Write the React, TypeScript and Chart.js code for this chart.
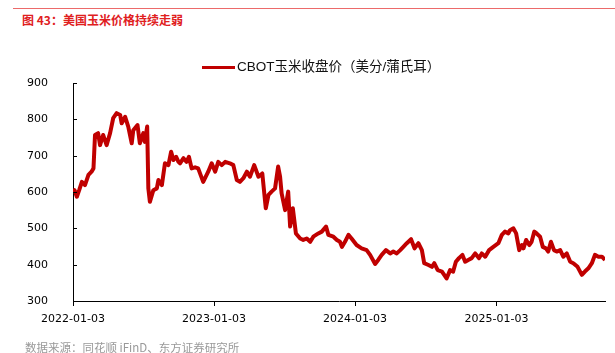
import React, { useEffect, useRef } from "react";
import { Chart, registerables } from "chart.js";

Chart.register(...registerables);

const titleText = "图 43：美国玉米价格持续走弱";
const seriesName = "CBOT玉米收盘价（美分/蒲氏耳）";
const sourceText = "数据来源：同花顺 iFinD、东方证券研究所";

const dates = [
  "2022-01-03", "2022-01-07", "2022-01-13", "2022-01-19", "2022-01-26", "2022-02-03", "2022-02-12", "2022-02-20", "2022-02-25", "2022-03-01",
  "2022-03-09", "2022-03-14", "2022-03-22", "2022-03-31", "2022-04-09", "2022-04-17", "2022-04-26", "2022-05-05", "2022-05-09", "2022-05-18",
  "2022-05-26", "2022-06-04", "2022-06-08", "2022-06-19", "2022-06-25", "2022-07-04", "2022-07-08", "2022-07-14", "2022-07-17", "2022-07-21",
  "2022-07-30", "2022-08-08", "2022-08-12", "2022-08-21", "2022-08-29", "2022-09-07", "2022-09-14", "2022-09-20", "2022-09-27", "2022-10-03",
  "2022-10-07", "2022-10-16", "2022-10-24", "2022-10-30", "2022-11-06", "2022-11-15", "2022-11-23", "2022-12-06", "2022-12-19", "2022-12-28",
  "2023-01-06", "2023-01-14", "2023-01-23", "2023-02-01", "2023-02-13", "2023-02-22", "2023-03-03", "2023-03-11", "2023-03-20", "2023-03-29",
  "2023-04-06", "2023-04-17", "2023-04-28", "2023-05-08", "2023-05-17", "2023-05-24", "2023-06-01", "2023-06-10", "2023-06-18", "2023-06-23",
  "2023-06-27", "2023-07-06", "2023-07-14", "2023-07-19", "2023-07-26", "2023-08-03", "2023-08-14", "2023-08-22", "2023-08-31", "2023-09-09",
  "2023-09-17", "2023-09-30", "2023-10-09", "2023-10-20", "2023-10-26", "2023-11-08", "2023-11-17", "2023-11-25", "2023-11-30", "2023-12-08",
  "2023-12-17", "2023-12-25",
  "2024-01-07", "2024-01-20", "2024-02-02", "2024-02-11", "2024-02-24", "2024-03-03", "2024-03-12", "2024-03-23", "2024-04-03", "2024-04-11",
  "2024-04-20", "2024-04-29", "2024-05-07", "2024-05-16", "2024-05-27", "2024-06-05", "2024-06-15", "2024-06-24", "2024-06-30", "2024-07-11",
  "2024-07-20", "2024-07-26", "2024-08-04", "2024-08-15", "2024-08-27", "2024-09-05", "2024-09-13", "2024-09-20", "2024-09-28", "2024-10-07",
  "2024-10-14", "2024-10-22", "2024-10-31", "2024-11-09", "2024-11-19", "2024-11-26", "2024-12-05", "2024-12-15", "2024-12-26",
  "2025-01-08", "2025-01-17", "2025-01-25", "2025-02-03", "2025-02-07", "2025-02-16", "2025-02-23", "2025-03-03", "2025-03-10", "2025-03-14",
  "2025-03-21", "2025-03-29", "2025-04-04", "2025-04-11", "2025-04-17", "2025-04-26", "2025-05-03", "2025-05-11", "2025-05-17", "2025-05-24",
  "2025-06-01", "2025-06-08", "2025-06-17", "2025-06-25", "2025-07-04", "2025-07-13", "2025-07-21", "2025-08-01", "2025-08-12", "2025-08-20",
  "2025-08-29", "2025-09-07", "2025-09-15", "2025-09-24", "2025-10-03", "2025-10-11",
];

const prices = [
  600, 605, 587, 605, 628, 619, 647, 656, 665, 757,
  762, 729, 757, 729, 762, 803, 817, 812, 789, 807,
  780, 734, 770, 784, 734, 762, 738, 780, 610, 573,
  605, 610, 633, 619, 679, 674, 711, 688, 697, 683,
  679, 693, 683, 697, 665, 668, 665, 628, 656, 679,
  656, 683, 674, 683, 679, 674, 633, 628, 638, 656,
  642, 674, 642, 651, 555, 592, 601, 610, 670, 642,
  596, 550, 601, 505, 555, 486, 472, 468, 472, 463,
  477, 486, 491, 505, 482, 477, 468, 463, 449, 463,
  482, 472, 454, 445, 440, 427, 402, 413, 427, 440,
  431, 436, 431, 440, 449, 459, 470, 445, 459, 440,
  404, 399, 394, 404, 385, 381, 362, 385, 381, 408,
  418, 427, 408, 413, 418, 431, 418, 431, 422, 440,
  449, 459, 482, 491, 486, 495, 500, 486, 440, 454,
  445, 468, 454, 463, 491, 486, 477, 449, 445, 436,
  463, 440, 436, 440, 422, 431, 408, 404, 394, 372,
  381, 390, 404, 427, 422, 422, 413,
];

const yTickValues = [300, 400, 500, 600, 700, 800, 900];
const xTickLabels = ["2022-01-03", "2023-01-03", "2024-01-03", "2025-01-03"];

const DAY_MS = 86400000;
const toUTC = (s: string) => {
  const [y, m, d] = s.split("-").map(Number);
  return Date.UTC(y, m - 1, d);
};
const originMs = toUTC(dates[0]);
const dayOf = (s: string) => Math.round((toUTC(s) - originMs) / DAY_MS);

const inwardTicks = {
  id: "inwardTicks",
  afterDraw(chart: any) {
    const { ctx, chartArea, scales } = chart;
    const y = scales.y;
    ctx.save();
    ctx.strokeStyle = "#000";
    ctx.lineWidth = 1;
    yTickValues.forEach((v) => {
      const py = Math.round(y.getPixelForValue(v)) + 0.5;
      ctx.beginPath();
      ctx.moveTo(chartArea.left, py);
      ctx.lineTo(chartArea.left + 4, py);
      ctx.stroke();
    });
    ctx.restore();
  },
};

export default function App() {
  const canvasRef = useRef<HTMLCanvasElement | null>(null);

  useEffect(() => {
    if (!canvasRef.current) return;
    const points = dates.map((d, i) => ({ x: dayOf(d), y: prices[i] }));
    const tickFont = { family: "'DejaVu Sans', sans-serif", size: 11 };
    const chart = new Chart(canvasRef.current, {
      type: "line",
      data: {
        datasets: [
          {
            label: seriesName,
            data: points,
            borderColor: "#c00000",
            backgroundColor: "#c00000",
            borderWidth: 4,
            borderJoinStyle: "round",
            pointRadius: 0,
            tension: 0,
            fill: false,
          },
        ],
      },
      options: {
        animation: false,
        responsive: false,
        devicePixelRatio: 1,
        layout: { padding: { left: 0, right: 10, top: 83, bottom: 0 } },
        plugins: { legend: { display: false }, title: { display: false }, tooltip: { enabled: false } },
        scales: {
          x: {
            type: "linear",
            min: 0,
            max: dayOf(dates[dates.length - 1]),
            afterBuildTicks: (axis: any) => {
              axis.ticks = xTickLabels.map((l) => ({ value: dayOf(l) }));
            },
            afterFit: (s: any) => {
              s.height = 52;
            },
            ticks: {
              autoSkip: false,
              maxRotation: 0,
              padding: 7,
              color: "#000",
              font: tickFont,
              callback: (v: any) => {
                const i = xTickLabels.findIndex((l) => dayOf(l) === v);
                return i >= 0 ? xTickLabels[i] : "";
              },
            },
            grid: { display: true, drawOnChartArea: false, drawTicks: true, tickLength: 5, color: "#000", tickColor: "#000" },
            border: { display: true, color: "#000", width: 1 },
          },
          y: {
            type: "linear",
            min: 300,
            max: 900,
            afterBuildTicks: (axis: any) => {
              axis.ticks = yTickValues.map((v) => ({ value: v }));
            },
            afterFit: (s: any) => {
              s.width = 73;
            },
            ticks: { padding: 17, color: "#000", font: tickFont },
            grid: { display: false },
            border: { display: true, color: "#000", width: 1 },
          },
        },
      },
      plugins: [inwardTicks],
    } as any);
    return () => chart.destroy();
  }, []);

  return (
    <div style={{ position: "absolute", left: 0, top: 0, width: 615, height: 353, background: "#fff", overflow: "hidden" }}>
      <div style={{ position: "absolute", left: 13, top: 8, width: 602, height: 1, background: "#ec6a6a" }} />
      <div
        style={{
          position: "absolute",
          left: 22,
          top: 12,
          lineHeight: "16px",
          fontSize: 12,
          fontWeight: "bold",
          color: "#e0201e",
          fontFamily: "'Noto Sans CJK SC', sans-serif",
          whiteSpace: "nowrap",
        }}
      >
        {titleText}
      </div>
      <canvas ref={canvasRef} width={615} height={353} style={{ position: "absolute", left: 0, top: 0, width: 615, height: 353 }} />
      <div style={{ position: "absolute", left: 202, top: 66, width: 33, height: 3, background: "#c00000" }} />
      <div
        style={{
          position: "absolute",
          left: 237,
          top: 59,
          lineHeight: "16px",
          fontSize: 13.5,
          color: "#111",
          fontFamily: "'Liberation Sans', 'Noto Sans CJK SC', sans-serif",
          whiteSpace: "nowrap",
        }}
      >
        {seriesName}
      </div>
      <div
        style={{
          position: "absolute",
          left: 25,
          top: 339,
          lineHeight: "16px",
          fontSize: 11.5,
          color: "#999",
          fontFamily: "'Noto Sans CJK SC', sans-serif",
          whiteSpace: "nowrap",
        }}
      >
        {sourceText}
      </div>
    </div>
  );
}
